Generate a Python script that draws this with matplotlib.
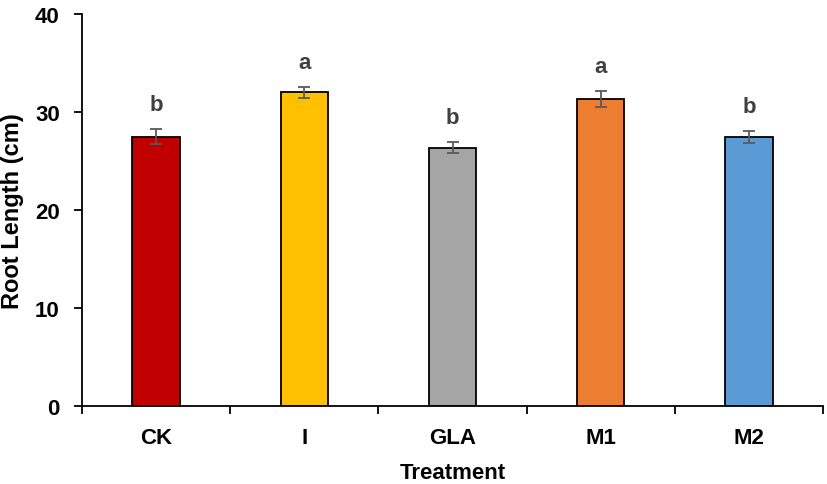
import matplotlib
matplotlib.use("Agg")
import matplotlib.pyplot as plt
import numpy as np

categories = ["CK", "I", "GLA", "M1", "M2"]
values = [27.5, 32.0, 26.35, 31.35, 27.45]
errors = [0.75, 0.55, 0.55, 0.8, 0.6]
letters = ["b", "a", "b", "a", "b"]
colors = ["#C00000", "#FFC000", "#A5A5A5", "#ED7D31", "#5B9BD5"]

plt.rcParams['font.family'] = ['Liberation Sans', 'DejaVu Sans']

fig = plt.figure(figsize=(8.27, 4.85), dpi=100)
ax = fig.add_axes([82/827, 1-407/485, (823-82)/827, (407-15)/485])

x = np.arange(len(categories))
ax.bar(x, values, width=0.32, color=colors, edgecolor="black", linewidth=1.3, zorder=2)
ax.errorbar(x, values, yerr=errors, fmt="none", ecolor="#595959", elinewidth=1.3,
            capsize=4.5, capthick=1.3, zorder=3)
for xi, v, e, l in zip(x, values, errors, letters):
    ax.annotate(l, (xi, v + e), xytext=(0, 10), textcoords="offset points",
                ha="center", va="bottom", fontsize=16, fontweight="bold", color="#404040")

ax.set_xlim(-0.5, len(categories) - 0.5)
ax.set_ylim(0, 40)
ax.set_yticks([0, 10, 20, 30, 40])
ax.set_xticks(np.arange(-0.5, len(categories)), labels=[])
ax.set_xticks(x, labels=categories, minor=True)
ax.tick_params(axis="x", which="major", direction="out", length=6, width=1.3, color="black")
ax.tick_params(axis="x", which="minor", length=0, pad=15, labelsize=16)
ax.tick_params(axis="y", direction="out", length=6, width=1.3, labelsize=16, pad=10)
for lab in ax.get_xticklabels(minor=True) + ax.get_yticklabels():
    lab.set_fontweight("bold")

for s in ["top", "right"]:
    ax.spines[s].set_visible(False)
for s in ["left", "bottom"]:
    ax.spines[s].set_linewidth(1.3)

ax.set_xlabel("Treatment", fontsize=16, fontweight="bold", labelpad=10)
ax.set_ylabel("Root Length (cm)", fontsize=17, fontweight="bold", labelpad=8)

fig.savefig("out.png", dpi=100)
